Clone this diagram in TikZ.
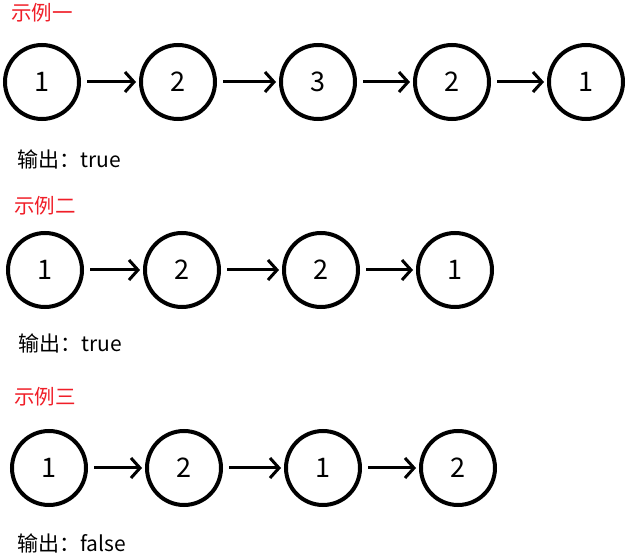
\documentclass[tikz,border=0pt]{standalone}
\usepackage{fontspec}
\newfontfamily\cjk{Noto Sans CJK SC}
\usepackage{tikz}
\usetikzlibrary{arrows.meta,positioning}
\definecolor{exampleRed}{RGB}{240,30,40}

\tikzset{
  listnode/.style={circle, draw=black, line width=4pt, minimum size=74pt, inner sep=0pt,
    font=\cjk\fontsize{27}{27}\selectfont},
  link/.style={-{Straight Barb[length=9pt,width=20pt]}, line width=3pt, shorten <=6pt, shorten >=3pt},
  title/.style={anchor=west, text=exampleRed, inner sep=0pt, font=\cjk\fontsize{20.5}{20.5}\selectfont},
  result/.style={anchor=west, inner sep=0pt, font=\cjk\fontsize{21}{21}\selectfont}
}

\begin{document}
\begin{tikzpicture}[x=1pt,y=-1pt]
        \useasboundingbox (0,0) rectangle (633,556);
        % Example 1: 1 -> 2 -> 3 -> 2 -> 1
        \node[title] (t1) at (11,13) {示例一};
        \node[listnode] (a1) at (42,82) {1};
        \node[listnode] (a2) at (178,82) {2};
        \node[listnode] (a3) at (318,82) {3};
        \node[listnode] (a4) at (452,82) {2};
        \node[listnode] (a5) at (586,82) {1};
        \draw[link] (a1) -- (a2);
        \draw[link] (a2) -- (a3);
        \draw[link] (a3) -- (a4);
        \draw[link] (a4) -- (a5);
        \node[result] (r1) at (17,159) {输出：true};
        % Example 2: 1 -> 2 -> 2 -> 1
        \node[title] (t2) at (14,206) {示例二};
        \node[listnode] (b1) at (45,270) {1};
        \node[listnode] (b2) at (182,270) {2};
        \node[listnode] (b3) at (321,270) {2};
        \node[listnode] (b4) at (455,270) {1};
        \draw[link] (b1) -- (b2);
        \draw[link] (b2) -- (b3);
        \draw[link] (b3) -- (b4);
        \node[result] (r2) at (18,343) {输出：true};
        % Example 3: 1 -> 2 -> 1 -> 2
        \node[title] (t3) at (14,397) {示例三};
        \node[listnode] (c1) at (49,468) {1};
        \node[listnode] (c2) at (184,468) {2};
        \node[listnode] (c3) at (323,468) {1};
        \node[listnode] (c4) at (458,468) {2};
        \draw[link] (c1) -- (c2);
        \draw[link] (c2) -- (c3);
        \draw[link] (c3) -- (c4);
        \node[result] (r3) at (17,543) {输出：false};
\end{tikzpicture}
\end{document}
